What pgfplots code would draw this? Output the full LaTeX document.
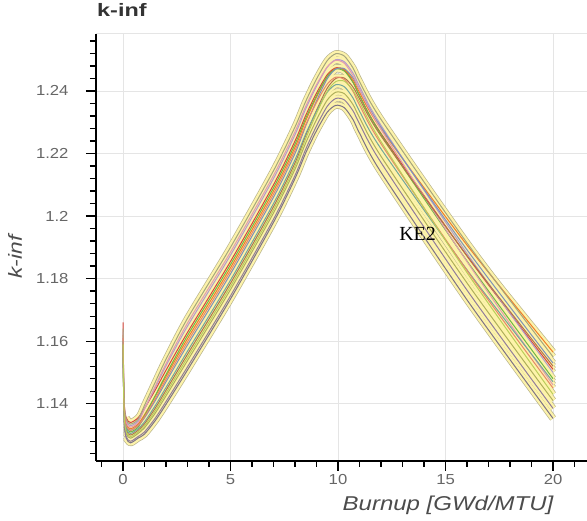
\documentclass[border=0pt]{standalone}
\usepackage{pgfplots}
\pgfplotsset{compat=1.18}
\usepackage{pgfplotstable}
\usepackage{fontspec}
\setmainfont{Liberation Sans}
\newfontfamily\lab[FakeStretch=1.15]{Liberation Sans}
\newfontfamily\xlab[FakeStretch=1.2]{Liberation Sans}
\newfontfamily\tit[FakeStretch=1.3]{Liberation Sans}
\newfontfamily\serifF{Liberation Serif}

\definecolor{halo}{RGB}{253,243,170}
\definecolor{haloedge}{RGB}{185,180,140}
\definecolor{col1}{RGB}{214,70,60}
\definecolor{col2}{RGB}{240,125,40}
\definecolor{col3}{RGB}{110,185,70}
\definecolor{col4}{RGB}{175,155,205}
\definecolor{col5}{RGB}{125,145,185}
\definecolor{col6}{RGB}{225,155,175}
\definecolor{col7}{RGB}{175,115,75}
\definecolor{col8}{RGB}{125,115,135}
\definecolor{col9}{RGB}{175,175,90}
\definecolor{col10}{RGB}{115,165,155}
\definecolor{col11}{RGB}{145,125,155}
\definecolor{col12}{RGB}{165,165,125}
\definecolor{col13}{RGB}{232,135,105}
\definecolor{col14}{RGB}{185,205,90}

\pgfplotstableread{
x c1 c2 c3 c4 c5 c6 c7 c8 c9 c10 c11 c12 c13 c14
0 1.1660 1.1620 1.1600 1.1610 1.1600 1.1630 1.1590 1.1580 1.1590 1.1600 1.1580 1.1640 1.1610 1.1590
0.05 1.1415 1.1395 1.1385 1.1405 1.1390 1.1400 1.1375 1.1350 1.1365 1.1380 1.1355 1.1410 1.1390 1.1370
0.15 1.1355 1.1335 1.1325 1.1345 1.1330 1.1340 1.1315 1.1290 1.1305 1.1320 1.1295 1.1350 1.1330 1.1310
0.35 1.1340 1.1320 1.1310 1.1330 1.1315 1.1325 1.1300 1.1275 1.1290 1.1305 1.1280 1.1335 1.1315 1.1295
0.7 1.1355 1.1335 1.1325 1.1345 1.1330 1.1340 1.1315 1.1290 1.1305 1.1320 1.1295 1.1350 1.1330 1.1310
1.0 1.1385 1.1365 1.1361 1.1384 1.1355 1.1383 1.1336 1.1303 1.1323 1.1342 1.1310 1.1395 1.1358 1.1329
1.5 1.1444 1.1424 1.1426 1.1452 1.1410 1.1456 1.1386 1.1346 1.1370 1.1394 1.1354 1.1469 1.1416 1.1378
2.0 1.1507 1.1487 1.1493 1.1521 1.1470 1.1528 1.1443 1.1398 1.1425 1.1452 1.1407 1.1542 1.1478 1.1434
3.0 1.1628 1.1608 1.1618 1.1648 1.1588 1.1658 1.1558 1.1508 1.1538 1.1568 1.1518 1.1673 1.1598 1.1548
5.0 1.1855 1.1835 1.1845 1.1875 1.1815 1.1885 1.1785 1.1735 1.1765 1.1795 1.1745 1.1900 1.1825 1.1775
7.0 1.2100 1.2080 1.2090 1.2120 1.2060 1.2130 1.2030 1.1980 1.2010 1.2040 1.1990 1.2145 1.2070 1.2020
8.0 1.2240 1.2220 1.2230 1.2260 1.2200 1.2270 1.2170 1.2120 1.2150 1.2180 1.2130 1.2285 1.2210 1.2160
8.5 1.2322 1.2305 1.2313 1.2343 1.2288 1.2351 1.2258 1.2202 1.2234 1.2263 1.2214 1.2367 1.2292 1.2248
9.0 1.2393 1.2380 1.2385 1.2415 1.2368 1.2420 1.2338 1.2273 1.2308 1.2335 1.2288 1.2438 1.2363 1.2328
9.5 1.2452 1.2445 1.2446 1.2476 1.2439 1.2477 1.2409 1.2332 1.2371 1.2396 1.2351 1.2497 1.2422 1.2399
9.9 1.2474 1.2472 1.2470 1.2500 1.2470 1.2498 1.2440 1.2354 1.2396 1.2420 1.2376 1.2519 1.2444 1.2430
10.3 1.2466 1.2468 1.2463 1.2493 1.2471 1.2488 1.2441 1.2346 1.2391 1.2413 1.2371 1.2511 1.2436 1.2431
10.7 1.2428 1.2435 1.2427 1.2457 1.2442 1.2449 1.2412 1.2308 1.2356 1.2377 1.2336 1.2473 1.2398 1.2402
11.0 1.2385 1.2395 1.2385 1.2415 1.2405 1.2405 1.2375 1.2265 1.2315 1.2335 1.2295 1.2430 1.2355 1.2365
12.0 1.2264 1.2279 1.2261 1.2290 1.2284 1.2277 1.2256 1.2140 1.2191 1.2215 1.2171 1.2309 1.2231 1.2238
16.0 1.1872 1.1907 1.1856 1.1880 1.1892 1.1854 1.1873 1.1732 1.1786 1.1828 1.1763 1.1914 1.1826 1.1819
20.0 1.1510 1.1565 1.1480 1.1500 1.1530 1.1460 1.1520 1.1353 1.1410 1.1470 1.1385 1.1550 1.1450 1.1430
}\kinf

\begin{document}
\begin{tikzpicture}
\useasboundingbox (0,0) rectangle (587pt,521pt);
\begin{axis}[
  at={(96pt,60pt)}, anchor=south west,
  scale only axis, width=491pt, height=427pt,
  xmin=-1.256, xmax=21.58, ymin=1.1217, ymax=1.2582,
  axis x line*=bottom, axis y line*=left,
  axis line style={-, black, line width=1.6pt},
  xtick={0,5,10,15,20}, xticklabels={0,5,10,15,20},
  ytick={1.14,1.16,1.18,1.2,1.22,1.24},
  yticklabels={1.14,1.16,1.18,1.2,1.22,1.24},
  minor xtick={-1,1,2,3,4,6,7,8,9,11,12,13,14,16,17,18,19,21},
  minor ytick={1.124,1.128,1.132,1.136,1.144,1.148,1.152,1.156,1.164,1.168,1.172,1.176,1.184,1.188,1.192,1.196,1.204,1.208,1.212,1.216,1.224,1.228,1.232,1.236,1.244,1.248,1.252,1.256},
  tick align=outside, major tick length=10pt, minor tick length=6pt,
  every tick/.style={black, line width=1.3pt},
  grid=major, major grid style={black!10, line width=0.8pt},
  ticklabel style={font=\lab\fontsize{14.5}{16}\selectfont, text=black!60},
  yticklabel style={xshift=-14pt},
  title={k-inf},
  title style={at={(0,1)}, anchor=base west, inner sep=0pt, yshift=11.5pt, xshift=1pt,
    font=\tit\bfseries\fontsize{18}{20}\selectfont, text=black!80},
  xlabel={Burnup [GWd/MTU]},
  xlabel style={at={(axis description cs:0.717,-0.103)}, anchor=center,
    font=\xlab\itshape\fontsize{20}{22}\selectfont, text=black!70},
  ylabel={k-inf},
  ylabel style={at={(axis description cs:-0.165,0.478)}, anchor=center,
    font=\xlab\itshape\fontsize{19}{21}\selectfont, text=black!70},
  after end axis/.code={\draw[black!10, line width=1pt] (rel axis cs:0,1) -- (rel axis cs:1,1);},
]
\pgfplotsinvokeforeach{1,...,14}{
  \addplot[haloedge, line width=7pt, line join=round, smooth, tension=0.45, skip coords between index={0}{2}] table[x=x, y=c#1] {\kinf};
}
\pgfplotsinvokeforeach{1,...,14}{
  \addplot[halo, line width=5.6pt, line join=round, smooth, tension=0.45, skip coords between index={0}{2}] table[x=x, y=c#1] {\kinf};
}
\pgfplotsinvokeforeach{1,...,14}{
  \addplot[col#1, line width=1pt, line join=round, smooth, tension=0.45] table[x=x, y=c#1] {\kinf};
}
\node[anchor=base west, inner sep=0pt, font=\serifF\fontsize{20}{22}\selectfont, text=black] at (axis cs:12.84,1.1923) {KE2};
\end{axis}
\end{tikzpicture}
\end{document}
